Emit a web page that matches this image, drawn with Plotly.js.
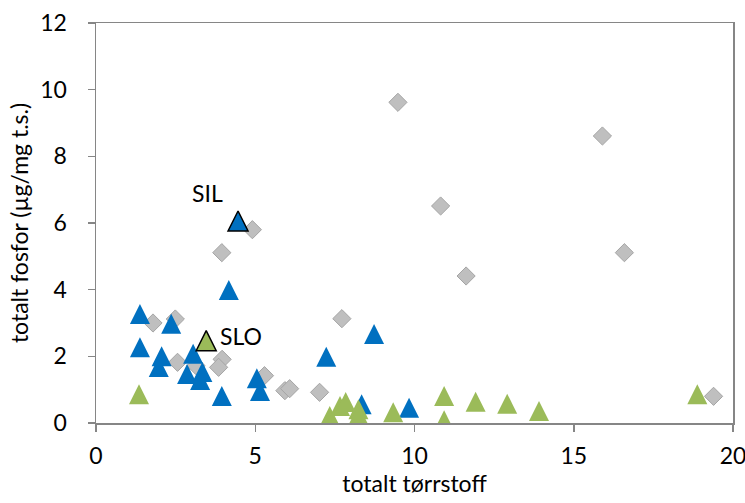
<!DOCTYPE html>
<html>
<head>
<meta charset="utf-8">
<script src="https://cdn.plot.ly/plotly-3.0.1.min.js"></script>
<style>html,body{margin:0;padding:0;background:#fff;}#chart{width:745px;height:503px;}</style>
</head>
<body>
<div id="chart"></div>
<script>
// Grey diamonds
const greyX = [9.48, 15.9, 10.82, 16.59, 11.62, 7.72, 7.02, 19.39, 4.91, 3.95, 1.79, 2.49, 2.56, 3.14, 3.96, 3.85, 5.29, 5.93, 6.08];
const greyY = [9.62, 8.61, 6.51, 5.11, 4.41, 3.13, 0.92, 0.80, 5.80, 5.11, 3.00, 3.12, 1.82, 1.72, 1.91, 1.67, 1.42, 0.97, 1.03];
// Blue triangles
const blueX = [1.38, 2.36, 1.38, 2.06, 1.97, 3.05, 2.86, 3.34, 3.27, 3.95, 5.05, 5.15, 4.17, 7.23, 8.73, 8.34, 9.83];
const blueY = [3.27, 2.98, 2.27, 2.00, 1.68, 2.08, 1.47, 1.53, 1.29, 0.81, 1.34, 0.96, 3.99, 1.99, 2.67, 0.56, 0.46];
// Green triangles
const greenX = [1.35, 7.34, 7.66, 7.84, 8.24, 8.24, 9.33, 10.93, 10.93, 11.92, 12.91, 13.91, 18.88];
const greenY = [0.86, 0.21, 0.51, 0.63, 0.41, 0.24, 0.32, 0.81, 0.08, 0.64, 0.58, 0.36, 0.86];
// Labelled points
const silX = [4.46], silY = [6.06], silLabel = ['SIL'];
const sloX = [3.46], sloY = [2.47], sloLabel = ['SLO'];
// Axis
const xTicks = [0, 5, 10, 15, 20];
const yTicks = [0, 2, 4, 6, 8, 10, 12];
const xTitle = 'totalt tørrstoff';
const yTitle = 'totalt fosfor (µg/mg t.s.)';

const W = 745, H = 503;
const M = {l: 96, r: 12, t: 23, b: 80};
const yMax = 12;
const triSize = 20;
// arrow-up symbol has its tip at the data point; shift a helper axis so the marker is centred
const plotH = H - M.t - M.b;
const off = (triSize / 2) * yMax / plotH;

const FONT = 'Lato, "Open Sans", sans-serif';
const FS = 23;
const grey = '#BFBFBF', greyLine = '#A5A5A5', blue = '#0070C0', green = '#9BBB59';

const traces = [
  {x: greyX, y: greyY, type: 'scatter', mode: 'markers', yaxis: 'y',
   marker: {symbol: 'diamond', size: 14, color: grey, line: {color: greyLine, width: 1}}},
  {x: blueX, y: blueY, type: 'scatter', mode: 'markers', yaxis: 'y2',
   marker: {symbol: 'arrow-up', size: triSize, color: blue, line: {width: 0}}},
  {x: silX, y: silY, type: 'scatter', mode: 'markers', yaxis: 'y2',
   marker: {symbol: 'arrow-up', size: triSize, color: blue, line: {color: '#000', width: 1.5}}},
  {x: greenX, y: greenY, type: 'scatter', mode: 'markers', yaxis: 'y2',
   marker: {symbol: 'arrow-up', size: triSize, color: green, line: {width: 0}}},
  {x: sloX, y: sloY, type: 'scatter', mode: 'markers', yaxis: 'y2',
   marker: {symbol: 'arrow-up', size: triSize, color: green, line: {color: '#000', width: 1.5}}}
];

const axisCommon = {
  showgrid: false, zeroline: false, showline: true, linecolor: '#868686', linewidth: 1.5,
  mirror: true, ticks: 'outside', ticklen: 7, tickwidth: 1.5, tickcolor: '#868686',
  ticklabeloverflow: 'allow',
  tickfont: {family: FONT, size: FS, color: '#000'}
};

const layout = {
  width: W, height: H,
  margin: M,
  paper_bgcolor: '#fff', plot_bgcolor: '#fff',
  showlegend: false,
  font: {family: FONT, color: '#000'},
  xaxis: Object.assign({}, axisCommon, {
    range: [0, 20], tickvals: xTicks, ticktext: xTicks.map(String), ticklabelstandoff: 5,
    title: {text: xTitle, font: {family: FONT, size: FS, color: '#000'}, standoff: 4}
  }),
  yaxis: Object.assign({}, axisCommon, {
    range: [0, yMax], tickvals: yTicks, ticktext: yTicks.map(String), ticklabelstandoff: 16,
    title: {text: yTitle, font: {family: FONT, size: FS, color: '#000'}, standoff: 5}
  }),
  yaxis2: {overlaying: 'y', range: [-off, yMax - off], visible: false, fixedrange: true},
  annotations: [
    {x: silX[0], y: silY[0], xref: 'x', yref: 'y', text: silLabel[0], showarrow: false,
     xshift: -31, yshift: 28, font: {family: FONT, size: FS, color: '#000'}},
    {x: sloX[0], y: sloY[0], xref: 'x', yref: 'y', text: sloLabel[0], showarrow: false,
     xshift: 35, yshift: 5, font: {family: FONT, size: FS, color: '#000'}}
  ]
};

Plotly.newPlot('chart', traces, layout, {displayModeBar: false, staticPlot: true});
</script>
</body>
</html>
